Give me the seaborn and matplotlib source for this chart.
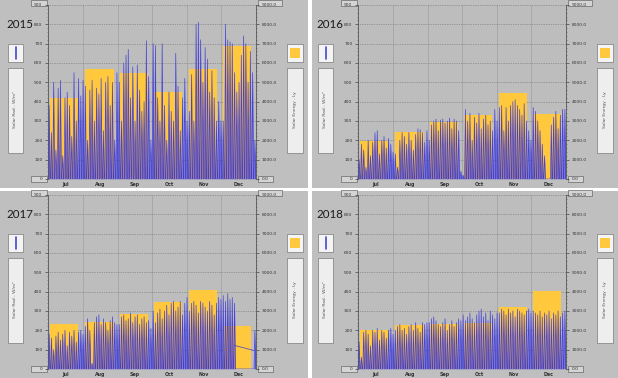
import numpy as np
import matplotlib
matplotlib.use("Agg")
import matplotlib.pyplot as plt
import seaborn as sns
from matplotlib.patches import Rectangle
from matplotlib.lines import Line2D
from matplotlib.ticker import MultipleLocator

sns.set_theme(style="white")
plt.rcParams["font.family"] = ["DejaVu Sans"]

# ---------------- data ----------------
years = ["2015", "2016", "2017", "2018"]
month_names = ["Jul", "Aug", "Sep", "Oct", "Nov", "Dec"]
month_days = [31, 31, 30, 31, 30, 31]

# monthly solar energy (Ly), right axis
energy_2015 = [4170, 5690, 5480, 4520, 5670, 6900]
energy_2016 = [1960, 2410, 2970, 3290, 4470, 3380]
energy_2017 = [2350, 2430, 2830, 3440, 4070, 2220]
energy_2018 = [2010, 2280, 2340, 2400, 3200, 4010]

# peak solar radiation (W/m2), one value per two days (Jul..Dec), left axis
rad_2015 = ([380, 240, 500, 150, 470, 510, 120, 420, 450, 380, 220, 550, 300, 520, 430, 510]
            + [480, 200, 460, 510, 300, 470, 440, 520, 250, 500, 530, 380, 500, 200, 550]
            + [500, 300, 600, 640, 670, 420, 580, 300, 590, 460, 350, 400, 715, 530, 200]
            + [700, 690, 420, 300, 700, 380, 200, 450, 350, 300, 650, 480, 250, 420, 520, 300]
            + [350, 540, 300, 800, 810, 720, 500, 680, 620, 450, 560, 420, 300, 400, 300]
            + [300, 800, 720, 710, 700, 550, 450, 500, 640, 740, 700, 500, 660, 550, 200])
rad_2016 = ([100, 180, 150, 60, 200, 120, 190, 240, 250, 130, 200, 220, 160, 210, 180, 140]
            + [130, 60, 200, 240, 220, 180, 240, 200, 150, 230, 260, 255, 240, 190, 250]
            + [200, 280, 300, 310, 250, 305, 310, 290, 300, 315, 260, 310, 300, 250, 40]
            + [20, 360, 300, 340, 200, 320, 290, 340, 260, 310, 330, 280, 300, 250, 360, 300]
            + [370, 380, 250, 370, 300, 380, 400, 410, 380, 360, 330, 390, 300, 250, 200]
            + [370, 350, 300, 250, 180, 120, 0, 0, 280, 320, 350, 260, 330, 360, 360])
rad_2017 = ([180, 160, 100, 170, 190, 150, 180, 200, 120, 190, 170, 200, 140, 190, 200, 180]
            + [220, 260, 200, 30, 240, 270, 280, 230, 260, 240, 200, 250, 270, 240, 230]
            + [230, 270, 280, 250, 260, 290, 240, 270, 280, 230, 260, 270, 240, 250, 210]
            + [300, 240, 290, 310, 260, 300, 330, 280, 340, 350, 300, 320, 350, 280, 340, 370]
            + [300, 340, 350, 330, 290, 350, 340, 320, 300, 350, 330, 280, 340, 370, 360]
            + [380, 350, 390, 360, 370, 340, np.nan, np.nan, np.nan, np.nan, np.nan, np.nan,
               np.nan, np.nan, 200])
rad_2018 = ([140, 60, 190, 200, 180, 120, 200, 190, 210, 150, 200, 190, 160, 200, 210, 180]
            + [200, 220, 230, 200, 210, 180, 220, 230, 200, 240, 210, 190, 240, 230, 240]
            + [240, 260, 270, 250, 230, 220, 240, 260, 200, 230, 250, 220, 240, 260, 250]
            + [280, 250, 270, 290, 260, 240, 280, 300, 310, 270, 290, 250, 300, 280, 260, 290]
            + [290, 310, 300, 280, 310, 290, 300, 270, 310, 300, 290, 280, 300, 310, 290]
            + [300, 290, 280, 300, 270, 290, 280, 300, 260, 290, 280, 300, 270, 290, 300])

# 2017 data gap: straight connecting line (day, W/m2)
gap_2017_days = [165, 182]
gap_2017_vals = [122, 96]

energies = [energy_2015, energy_2016, energy_2017, energy_2018]
rads = [rad_2015, rad_2016, rad_2017, rad_2018]

# ---------------- layout ----------------
W, H = 618, 378
fig = plt.figure(figsize=(6.18, 3.78), dpi=100, facecolor="white")


def rect(x0, y0, x1, y1):
    return [x0 / W, 1 - y1 / H, (x1 - x0) / W, (y1 - y0) / H]


def frect(x0, y0, x1, y1, **kw):
    r = Rectangle((x0 / W, 1 - y1 / H), (x1 - x0) / W, (y1 - y0) / H,
                  transform=fig.transFigure, **kw)
    fig.patches.append(r)
    return r


panel_bg = [(0, 0, 308, 188), (312, 0, 618, 188), (0, 191, 308, 378), (312, 191, 618, 378)]
offsets = [(0, 0), (310, 0), (0, 190), (310, 190)]

BG = "#bfbfbf"
YEL = "#ffc83d"
BLUE = "#3a36d8"

starts = np.concatenate([[0], np.cumsum(month_days)[:-1]])
centers = starts + np.array(month_days) * 0.47
widths = np.array(month_days) * 0.80
mid = starts + np.array(month_days) / 2.0


def spikes(peaks):
    xs, ys = [], []
    for i, p in enumerate(peaks):
        if np.isnan(p):
            continue
        c = 2 * i + 1
        xs += [c - 0.75, c, c + 0.75]
        ys += [0, p, 0]
    return np.array(xs), np.array(ys)


for k in range(4):
    dx, dy = offsets[k]
    bx0, by0, bx1, by1 = panel_bg[k]
    frect(bx0, by0, bx1, by1, facecolor=BG, edgecolor="none", zorder=-2)

    ax = fig.add_axes(rect(48 + dx, 5 + dy, 256 + dx, 179 + dy))
    ax2 = ax.twinx()

    # ---- energy axis (bars, right side) ----
    ax.set_facecolor("#bdbdbd")
    ax.set_xlim(0, 184)
    ax.set_ylim(0, 9000)
    ax.bar(centers, energies[k], width=widths, color=YEL, linewidth=0, zorder=1)
    ax.set_axisbelow(True)
    ax.yaxis.tick_right()
    ax.set_yticks(np.arange(0, 9001, 1000))
    ax.set_yticklabels([f"{v:.1f}" for v in np.arange(0, 9001, 1000)])
    ax.yaxis.set_minor_locator(MultipleLocator(200))
    ax.tick_params(axis="y", which="major", labelsize=3.2, labelcolor="#333333",
                   length=2, width=0.5, color="#444444", pad=2,
                   right=True, left=False, labelright=True, labelleft=False)
    ax.tick_params(axis="y", which="minor", length=1, width=0.4, color="#555555",
                   right=True, left=False)
    ax.grid(axis="y", which="major", linestyle=(0, (1, 1.5)), color="#707070", linewidth=0.5)

    ax.set_xticks(mid)
    ax.set_xticklabels(month_names)
    ax.set_xticks(list(starts[1:]), minor=True)
    ax.tick_params(axis="x", which="major", length=0, labelsize=3.4, labelcolor="#333333", pad=2)
    for t in ax.get_xticklabels():
        t.set_fontweight("bold")
    ax.tick_params(axis="x", which="minor", length=1.5, width=0.5, color="#555555")
    ax.grid(axis="x", which="minor", linestyle="-", color="#a0a0a0", linewidth=0.5)
    for s in ["top", "bottom", "left"]:
        ax.spines[s].set_visible(False)
    ax.spines["right"].set_color("#555555")
    ax.spines["right"].set_linewidth(0.6)

    # ---- radiation axis (line, left side) ----
    ax2.set_ylim(0, 900)
    ax2.set_xlim(0, 184)
    ax2.yaxis.tick_left()
    ax2.set_yticks(np.arange(0, 901, 100))
    ax2.yaxis.set_minor_locator(MultipleLocator(20))
    ax2.tick_params(axis="y", which="major", labelsize=3.2, labelcolor="#333333",
                    length=2, width=0.5, color="#444444", pad=2,
                    left=True, right=False, labelleft=True, labelright=False)
    ax2.tick_params(axis="y", which="minor", length=1, width=0.4, color="#555555",
                    left=True, right=False)
    for s in ["top", "bottom", "right"]:
        ax2.spines[s].set_visible(False)
    ax2.spines["left"].set_color("#555555")
    ax2.spines["left"].set_linewidth(0.6)

    xs, ys = spikes(np.array(rads[k], dtype=float))
    ax2.fill_between(xs, ys, 0, color=BLUE, alpha=0.55, linewidth=0)
    sns.lineplot(x=xs, y=ys, sort=False, estimator=None, ax=ax2, color=BLUE,
                 linewidth=0.5, alpha=0.9)
    if k == 2:
        sns.lineplot(x=gap_2017_days, y=gap_2017_vals, sort=False, estimator=None,
                     ax=ax2, color=BLUE, linewidth=0.6, alpha=0.8)
    ax2.set_xlabel("")
    ax2.set_ylabel("")
    ax.set_ylabel("")

    # boxes for end tick labels
    for (x0, y0, x1, y1) in [(31, 0, 47, 6), (31, 176, 47, 182),
                             (258, 0, 282, 6), (258, 176, 273, 182)]:
        frect(x0 + dx, y0 + dy, x1 + dx, y1 + dy, facecolor="#d4d4d4",
              edgecolor="#6a6a6a", linewidth=0.5, zorder=-1)

    # legend boxes
    frect(8 + dx, 44 + dy, 23 + dx, 62 + dy, facecolor="#f4f4f4", edgecolor="#8a8a8a",
          linewidth=0.6, zorder=-1)
    fig.lines.append(Line2D([(15.5 + dx) / W, (15.5 + dx) / W],
                            [1 - (47 + dy) / H, 1 - (59 + dy) / H],
                            transform=fig.transFigure, color="#4848c8", linewidth=1.2))
    frect(8 + dx, 68 + dy, 23 + dx, 153 + dy, facecolor="#eeeeee", edgecolor="#8a8a8a",
          linewidth=0.6, zorder=-1)
    fig.text((15.5 + dx) / W, 1 - (110 + dy) / H, "Solar Rad - W/m²", rotation=90,
             ha="center", va="center", fontsize=3.2, color="#555555")

    frect(287 + dx, 44 + dy, 303 + dx, 62 + dy, facecolor="#f4f4f4", edgecolor="#8a8a8a",
          linewidth=0.6, zorder=-1)
    frect(290 + dx, 48 + dy, 300 + dx, 58 + dy, facecolor=YEL, edgecolor="none", zorder=1)
    frect(287 + dx, 68 + dy, 303 + dx, 153 + dy, facecolor="#eeeeee", edgecolor="#8a8a8a",
          linewidth=0.6, zorder=-1)
    fig.text((295 + dx) / W, 1 - (110 + dy) / H, "Solar Energy - Ly", rotation=90,
             ha="center", va="center", fontsize=3.2, color="#555555")

    # year label
    fig.text((6 + dx) / W, 1 - (24 + dy) / H, years[k], ha="left", va="center",
             fontsize=8.3, color="#1a1a1a", family=["Lato", "DejaVu Sans"])

fig.savefig("out.png", dpi=100, facecolor="white")
